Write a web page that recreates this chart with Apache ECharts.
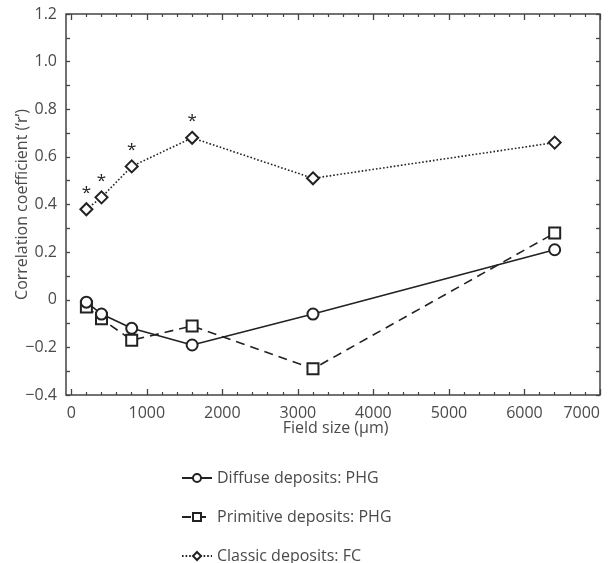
<!DOCTYPE html>
<html>
<head>
<meta charset="utf-8">
<script src="https://cdn.jsdelivr.net/npm/echarts@6/dist/echarts.min.js"></script>
<style>
  html, body { margin: 0; padding: 0; background: #fff; }
  #chart { width: 608px; height: 563px; }
</style>
</head>
<body>
<div id="chart"></div>
<script>
const fieldSizes = [200, 400, 800, 1600, 3200, 6400];
const diffuseVals = [-0.01, -0.06, -0.12, -0.19, -0.06, 0.21];
const primitiveVals = [-0.03, -0.08, -0.17, -0.11, -0.29, 0.28];
const classicVals = [0.38, 0.43, 0.56, 0.68, 0.51, 0.66];
const classicSig = [true, true, true, true, false, false];
const seriesNames = ["Diffuse deposits: PHG", "Primitive deposits: PHG", "Classic deposits: FC"];

const textColor = "#4a4a4a";
const lineColor = "#222";
const frameColor = "#444";
const font = "'Open Sans', 'Noto Sans', sans-serif";

const chart = echarts.init(document.getElementById("chart"));

const pairs = (vals) => fieldSizes.map((x, i) => [x, vals[i]]);

const yLabel = (v) => {
  if (Math.abs(v) < 1e-9) return "0";
  const s = Math.abs(v).toFixed(1);
  return v < 0 ? "\u2212" + s : s;
};

// grid 0 holds the data (x starts a bit left of 0), grid 1 only draws x ticks from 0
const X_MIN = -70;
const X_MAX = 7000;
const gridLeft = 66;
const gridRight = 8;
const plotW = 608 - gridLeft - gridRight;
const grid1Left = gridLeft + (0 - X_MIN) * plotW / (X_MAX - X_MIN);

const xTickAxis = (position) => ({
  type: "value",
  gridIndex: 1,
  position: position,
  min: 0,
  max: X_MAX,
  interval: 1000,
  axisLine: { show: false, onZero: false },
  axisTick: { show: true, inside: true, length: 6, lineStyle: { color: frameColor, width: 1.3 } },
  minorTick: { show: true, splitNumber: 5, length: 3, lineStyle: { color: frameColor, width: 1.2 } },
  splitLine: { show: false },
  axisLabel: { show: false },
});

const yAxisBase = (position, showLabel) => ({
  type: "value",
  gridIndex: 0,
  position: position,
  min: -0.4,
  max: 1.2,
  interval: 0.2,
  axisLine: { show: false, onZero: false },
  axisTick: { show: true, inside: true, length: 4, lineStyle: { color: frameColor, width: 1.3 } },
  minorTick: { show: true, splitNumber: 2, length: 4, lineStyle: { color: frameColor, width: 1.3 } },
  splitLine: { show: false },
  axisLabel: {
    show: showLabel,
    color: textColor,
    fontFamily: font,
    fontSize: 16,
    margin: 9,
    formatter: yLabel,
  },
});

const option = {
  animation: false,
  backgroundColor: "#fff",
  grid: [
    {
      left: gridLeft, right: gridRight, top: 14, bottom: 168,
      outerBoundsMode: "none", containLabel: false,
      show: true, borderColor: frameColor, borderWidth: 1.5, backgroundColor: "transparent",
    },
    {
      left: grid1Left, right: gridRight, top: 14, bottom: 168,
      outerBoundsMode: "none", containLabel: false, show: false,
    },
  ],
  xAxis: [
    {
      type: "value", gridIndex: 0, position: "bottom", min: X_MIN, max: X_MAX,
      axisLine: { show: false, onZero: false }, axisTick: { show: false }, axisLabel: { show: false },
      splitLine: { show: false },
    },
    Object.assign(xTickAxis("bottom"), {
      axisLabel: {
        show: true, color: textColor, fontFamily: font, fontSize: 16, margin: 10,
        alignMaxLabel: "right",
        formatter: (v) => String(v),
      },
      name: "Field size (\u00b5m)",
      nameLocation: "middle",
      nameGap: 25,
      nameMoveOverlap: false,
      nameTextStyle: { color: textColor, fontFamily: font, fontSize: 16 },
    }),
    xTickAxis("top"),
  ],
  yAxis: [
    Object.assign(yAxisBase("left", true), {
      name: "Correlation coefficient (\u2018r\u2019)",
      nameLocation: "middle",
      nameGap: 36,
      nameMoveOverlap: false,
      nameTextStyle: { color: textColor, fontFamily: font, fontSize: 16 },
    }),
    yAxisBase("right", false),
    {
      type: "value", gridIndex: 1, min: -0.4, max: 1.2, show: false,
    },
  ],
  legend: {
    orient: "vertical",
    left: 176,
    top: 464,
    height: 99,
    itemWidth: 30,
    itemHeight: 10,
    itemGap: 21,
    data: seriesNames,
    textStyle: { color: textColor, fontFamily: font, fontSize: 16, lineHeight: 18 },
  },
  series: [
    {
      name: seriesNames[0],
      type: "line",
      xAxisIndex: 0,
      yAxisIndex: 0,
      data: pairs(diffuseVals),
      symbol: "emptyCircle",
      symbolSize: 11,
      lineStyle: { color: lineColor, width: 1.6, type: "solid" },
      itemStyle: { color: lineColor, borderWidth: 1.5 },
      z: 3,
    },
    {
      name: seriesNames[1],
      type: "line",
      xAxisIndex: 0,
      yAxisIndex: 0,
      data: pairs(primitiveVals),
      symbol: "emptyRect",
      symbolSize: 11,
      lineStyle: { color: lineColor, width: 1.6, type: [9, 6] },
      itemStyle: { color: lineColor, borderWidth: 1.5 },
      z: 2,
    },
    {
      name: seriesNames[2],
      type: "line",
      xAxisIndex: 0,
      yAxisIndex: 0,
      data: fieldSizes.map((x, i) => ({
        value: [x, classicVals[i]],
        label: {
          show: classicSig[i],
          formatter: "*",
          position: "top",
          distance: 1,
          color: "#222",
          fontFamily: font,
          fontSize: 17,
        },
      })),
      symbol: "emptyDiamond",
      symbolSize: 12,
      lineStyle: { color: lineColor, width: 1.6, type: [1.6, 2] },
      itemStyle: { color: lineColor, borderWidth: 1.5 },
      z: 2,
    },
  ],
};

chart.setOption(option);
</script>
</body>
</html>
